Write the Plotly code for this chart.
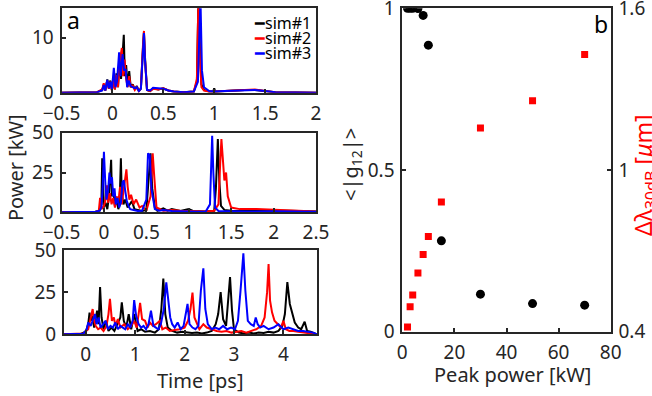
import plotly.graph_objects as go

# ---------------- data ----------------
# panel a1
t1_s1 = [-0.5, -0.15, -0.1, -0.085, -0.07, -0.05, -0.035, -0.02, -0.005, 0.01, 0.025, 0.04, 0.055, 0.07, 0.085, 0.1, 0.112, 0.122, 0.135, 0.15, 0.165, 0.18, 0.2, 0.22, 0.24, 0.26, 0.28, 0.3, 0.31, 0.32, 0.34, 0.37, 0.4, 0.45, 0.5, 0.55, 0.6, 0.7, 0.8, 0.83, 0.845, 0.86, 0.875, 0.9, 0.95, 0.99, 1.0, 1.01, 1.1, 1.2, 1.3, 1.4, 1.5, 1.6, 2.0]
p1_s1 = [0, 0.1, 0.5, 1.5, 0.4, 2.4, 0.8, 2.2, 0.5, 2.5, 0.6, 3.5, 1.0, 6.0, 2.5, 7.5, 10.5, 3.0, 5.0, 1.2, 3.9, 1.0, 1.5, 0.6, 1.2, 0.3, 0.8, 8.0, 11.0, 6.5, 0.5, 0.3, 0.8, 0.6, 0.8, 0.4, 0.2, 0.1, 0.2, 2.0, 17, 8, 1.5, 0.5, 0.2, 0.2, 0.8, 0.2, 0.3, 0.5, 0.5, 0.5, 0.3, 0.1, 0]
t1_s2 = [-0.5, -0.15, -0.1, -0.085, -0.07, -0.05, -0.035, -0.02, -0.005, 0.01, 0.025, 0.04, 0.055, 0.07, 0.093, 0.105, 0.12, 0.135, 0.15, 0.165, 0.18, 0.2, 0.22, 0.24, 0.26, 0.28, 0.3, 0.31, 0.32, 0.34, 0.37, 0.4, 0.45, 0.5, 0.55, 0.6, 0.7, 0.8, 0.83, 0.845, 0.86, 0.875, 0.9, 0.95, 1.0, 1.1, 1.2, 1.3, 1.4, 1.5, 1.6, 2.0]
p1_s2 = [0, 0.1, 0.6, 1.7, 0.4, 2.2, 0.7, 2.0, 0.4, 2.3, 0.6, 3.2, 1.0, 5.5, 8.1, 3.0, 6.0, 2.5, 1.0, 3.0, 1.0, 1.3, 0.5, 1.0, 0.3, 0.8, 8.5, 11.2, 6.0, 0.5, 0.3, 0.7, 0.6, 0.8, 0.4, 0.2, 0.1, 0.2, 2.5, 17, 6, 1.0, 0.4, 0.2, 0.2, 0.3, 0.5, 0.6, 0.6, 0.3, 0.1, 0]
t1_s3 = [-0.5, -0.15, -0.1, -0.085, -0.07, -0.05, -0.035, -0.02, -0.005, 0.014, 0.03, 0.045, 0.066, 0.08, 0.1, 0.115, 0.13, 0.145, 0.16, 0.18, 0.2, 0.22, 0.24, 0.26, 0.28, 0.3, 0.31, 0.32, 0.34, 0.37, 0.4, 0.45, 0.5, 0.55, 0.6, 0.7, 0.8, 0.84, 0.865, 0.88, 0.9, 0.95, 1.0, 1.1, 1.2, 1.3, 1.4, 1.5, 1.6, 2.0]
p1_s3 = [0, 0.1, 0.4, 1.4, 0.4, 2.3, 0.8, 2.0, 0.5, 4.5, 1.0, 2.0, 7.3, 3.0, 7.0, 4.0, 4.3, 1.0, 2.2, 1.2, 1.0, 0.8, 1.0, 0.3, 0.7, 7.5, 10.8, 6.0, 0.5, 0.4, 0.9, 0.8, 0.7, 0.4, 0.2, 0.1, 0.2, 2.0, 17, 4, 1.0, 0.3, 0.2, 0.3, 0.4, 0.5, 0.5, 0.3, 0.1, 0]

# panel a2
t2_s1 = [-0.5, -0.1, -0.05, -0.03, -0.02, -0.01, 0.0, 0.02, 0.04, 0.06, 0.075, 0.085, 0.095, 0.11, 0.13, 0.15, 0.17, 0.185, 0.2, 0.21, 0.23, 0.25, 0.28, 0.3, 0.33, 0.36, 0.4, 0.45, 0.5, 0.53, 0.55, 0.57, 0.6, 0.63, 0.7, 0.75, 0.8, 0.85, 0.9, 1.0, 1.05, 1.2, 1.3, 1.32, 1.343, 1.36, 1.38, 1.42, 1.5, 1.7, 2.0, 2.3, 2.5]
p2_s1 = [0, 0.3, 1, 5, 34, 12, 3, 6, 2, 10, 25, 33, 10, 14, 4, 8, 2, 5, 34, 12, 5, 8, 3, 5, 7, 2, 1.5, 0.8, 1.5, 20, 37, 15, 3, 1, 2.5, 1, 2, 1.5, 0.8, 2, 0.8, 0.5, 1, 15, 46, 20, 4, 1.5, 1, 0.8, 1.2, 0.8, 0.5]
t2_s2 = [-0.5, -0.1, -0.06, -0.045, -0.03, 0.0, 0.02, 0.037, 0.05, 0.07, 0.09, 0.11, 0.13, 0.15, 0.17, 0.19, 0.21, 0.23, 0.25, 0.265, 0.28, 0.3, 0.32, 0.35, 0.38, 0.42, 0.45, 0.5, 0.55, 0.575, 0.59, 0.62, 0.7, 0.8, 0.9, 1.0, 1.2, 1.3, 1.35, 1.37, 1.385, 1.4, 1.42, 1.44, 1.46, 1.5, 1.6, 1.8, 2.0, 2.2, 2.5]
p2_s2 = [0, 0.2, 1, 9, 2, 4, 8, 17, 6, 12, 5, 9, 3, 10, 6, 16, 5, 12, 20, 27, 16, 8, 11, 5, 8, 3, 4, 1, 10, 37, 25, 3, 1, 1.5, 1, 0.8, 0.5, 1, 5, 30, 46, 35, 20, 25, 10, 3, 2, 2, 1.5, 1, 0.5]
t2_s3 = [-0.5, -0.1, -0.05, -0.03, -0.015, 0.0, 0.015, 0.03, 0.05, 0.065, 0.08, 0.095, 0.11, 0.125, 0.14, 0.16, 0.18, 0.2, 0.22, 0.235, 0.25, 0.27, 0.29, 0.31, 0.35, 0.4, 0.45, 0.5, 0.52, 0.54, 0.56, 0.6, 0.65, 0.7, 0.8, 0.9, 1.0, 1.1, 1.2, 1.25, 1.265, 1.276, 1.29, 1.31, 1.35, 1.5, 1.7, 2.0, 2.3, 2.5]
p2_s3 = [0, 0.3, 1, 3, 15, 38, 20, 8, 14, 25, 18, 22, 10, 15, 5, 9, 3, 6, 19, 20, 14, 7, 4, 2, 1.5, 0.8, 1, 8, 37, 36, 15, 2, 1, 1.5, 0.8, 0.6, 0.5, 0.4, 0.5, 5, 30, 48, 25, 3, 0.8, 0.5, 0.5, 0.6, 0.5, 0.3]

# panel a3
t3_s1 = [-0.44, -0.1, 0.0, 0.05, 0.077, 0.1, 0.13, 0.17, 0.2, 0.23, 0.26, 0.29, 0.32, 0.36, 0.41, 0.46, 0.52, 0.58, 0.64, 0.7, 0.73, 0.77, 0.82, 0.87, 0.92, 0.98, 1.05, 1.12, 1.2, 1.3, 1.4, 1.48, 1.53, 1.57, 1.61, 1.66, 1.75, 1.85, 1.95, 2.05, 2.15, 2.25, 2.35, 2.45, 2.55, 2.63, 2.68, 2.73, 2.78, 2.84, 2.88, 2.92, 2.96, 3.0, 3.1, 3.2, 3.3, 3.4, 3.5, 3.6, 3.7, 3.8, 3.9, 3.98, 4.03, 4.08, 4.13, 4.18, 4.23, 4.3, 4.36, 4.43, 4.48, 4.55, 4.62, 4.68]
p3_s1 = [0, 0.2, 1.5, 6, 12.8, 8, 11, 4, 9, 14, 6, 28, 10, 3, 8, 2, 4, 2, 6, 10, 19, 8, 4, 12, 3, 12, 2, 3, 1.5, 2, 1, 3, 15, 33, 12, 4, 2, 1, 1.5, 1, 0.8, 1, 0.5, 1, 2, 6, 12, 25, 9, 5, 20, 34, 14, 3, 1, 0.5, 1, 0.5, 1, 0.8, 1.5, 1, 2, 5, 12, 31, 18, 12, 7, 4, 3, 7.5, 2, 1.5, 0.5, 0]
t3_s2 = [-0.44, -0.05, 0.05, 0.1, 0.14, 0.17, 0.2, 0.25, 0.3, 0.36, 0.42, 0.46, 0.49, 0.53, 0.57, 0.6, 0.65, 0.7, 0.78, 0.85, 0.92, 0.98, 1.03, 1.07, 1.1, 1.14, 1.2, 1.25, 1.3, 1.36, 1.42, 1.5, 1.55, 1.62, 1.7, 1.8, 1.9, 2.0, 2.07, 2.12, 2.16, 2.2, 2.25, 2.3, 2.38, 2.45, 2.55, 2.65, 2.75, 2.85, 2.95, 3.05, 3.15, 3.25, 3.35, 3.45, 3.55, 3.62, 3.67, 3.7, 3.73, 3.77, 3.82, 3.88, 3.95, 4.0, 4.05, 4.12, 4.2, 4.3, 4.4, 4.5, 4.68]
p3_s2 = [0, 0.5, 3, 10, 15, 8, 5, 3, 4, 2, 5, 12, 21, 8, 10, 5, 9, 4, 6, 3, 5, 8, 4, 12, 18.7, 9, 8, 4, 7, 5, 6, 8, 3, 4, 2, 2.5, 3, 4, 8, 15, 24.7, 10, 7, 3, 6, 4, 3, 2, 1.5, 2, 1, 1.5, 2, 1, 2, 3, 5, 10, 25, 41.7, 20, 13, 8, 6, 4, 8, 3, 2, 2, 1.5, 1, 0.5, 0]
t3_s3 = [-0.44, -0.05, 0.02, 0.05, 0.1, 0.15, 0.19, 0.22, 0.26, 0.3, 0.35, 0.4, 0.45, 0.5, 0.55, 0.6, 0.65, 0.7, 0.75, 0.8, 0.85, 0.9, 0.95, 0.98, 1.02, 1.07, 1.12, 1.17, 1.22, 1.27, 1.32, 1.37, 1.42, 1.47, 1.52, 1.58, 1.63, 1.67, 1.71, 1.75, 1.8, 1.86, 1.92, 1.98, 2.02, 2.06, 2.1, 2.16, 2.22, 2.28, 2.33, 2.38, 2.42, 2.47, 2.55, 2.62, 2.7, 2.78, 2.86, 2.94, 3.02, 3.08, 3.13, 3.19, 3.23, 3.28, 3.34, 3.4, 3.44, 3.48, 3.53, 3.6, 3.7, 3.8, 3.9, 4.0, 4.1, 4.2, 4.3, 4.4, 4.5, 4.6, 4.68]
p3_s3 = [0, 0.3, 3, 7, 5, 9, 12, 6, 10, 4, 6, 8, 3, 5, 4, 7, 3, 5, 4, 3, 6, 4, 8, 20.3, 11, 6, 4, 5, 3, 6, 14, 5, 4, 3, 6, 15, 30.8, 18, 10, 6, 4, 7, 3, 5, 12, 18, 6, 4, 3, 5, 26, 39.1, 15, 6, 3, 4, 3, 5, 3, 4, 3, 8, 25, 48, 26, 8, 6, 5, 10, 6, 4, 5, 3, 4, 6, 3, 4, 3, 2, 2, 1.5, 1, 0]

# panel b
peak_power = [2, 3, 4, 6, 8, 10, 15, 30, 50, 70]
g12 = [1.0, 1.0, 1.0, 0.999, 0.978, 0.886, 0.281, 0.116, 0.087, 0.082]
dlambda = [0.417, 0.493, 0.536, 0.618, 0.686, 0.753, 0.881, 1.156, 1.257, 1.429]

names = ["sim#1", "sim#2", "sim#3"]
colors = ["#000000", "#ff0000", "#0000ff"]

# ---------------- figure ----------------
W, H = 652, 396
FONT = "Noto Sans"
AX = "#262626"

fig = go.Figure()
panels = [
    ([t1_s1, t1_s2, t1_s3], [p1_s1, p1_s2, p1_s3], "x", "y"),
    ([t2_s1, t2_s2, t2_s3], [p2_s1, p2_s2, p2_s3], "x2", "y2"),
    ([t3_s1, t3_s2, t3_s3], [p3_s1, p3_s2, p3_s3], "x3", "y3"),
]
for pi, (ts, ps, xa, ya) in enumerate(panels):
    for k in range(3):
        fig.add_trace(go.Scatter(x=ts[k], y=ps[k], mode="lines", name=names[k],
                                 line=dict(color=colors[k], width=2),
                                 xaxis=xa, yaxis=ya, showlegend=False))

fig.add_trace(go.Scatter(x=peak_power, y=g12, mode="markers",
                         marker=dict(color="black", size=9, symbol="circle"),
                         xaxis="x4", yaxis="y4", showlegend=False))
fig.add_trace(go.Scatter(x=peak_power, y=dlambda, mode="markers",
                         marker=dict(color="#ff0000", size=7, symbol="square"),
                         xaxis="x4", yaxis="y5", showlegend=False))


def px2x(p):
    return p / W


def py2y(p):
    return 1 - p / H


common = dict(showline=True, linecolor=AX, linewidth=2, ticks="inside", ticklen=4,
              tickwidth=1.5, tickcolor=AX, showgrid=False, zeroline=False,
              automargin=False, ticklabeloverflow="allow",
              tickfont=dict(family=FONT, size=19, color=AX))
xcommon = dict(ticklabelstandoff=2, **common)
ycommon = dict(ticklabelstandoff=2, **common)

xd = [px2x(61.5), px2x(316)]
fig.update_layout(
    xaxis=dict(domain=xd, range=[-0.5, 2], tickvals=[-0.5, 0, 0.5, 1, 1.5, 2],
               anchor="y", mirror=True, **xcommon),
    yaxis=dict(domain=[py2y(92.7), py2y(8.3)], range=[0, 15.3], tickvals=[0, 10],
               anchor="x", mirror=True, **ycommon),
    xaxis2=dict(domain=xd, range=[-0.5, 2.5], tickvals=[-0.5, 0, 0.5, 1, 1.5, 2, 2.5],
                anchor="y2", mirror=True, **xcommon),
    yaxis2=dict(domain=[py2y(212.3), py2y(132.7)], range=[0, 50], tickvals=[0, 25, 50],
                anchor="x2", mirror=True, **ycommon),
    xaxis3=dict(domain=[px2x(64), px2x(317)], range=[-0.44, 4.68], tickvals=[0, 1, 2, 3, 4],
                anchor="y3", mirror=True, **xcommon),
    yaxis3=dict(domain=[py2y(334.3), py2y(250)], range=[0, 50], tickvals=[0, 25, 50],
                anchor="x3", mirror=True, **ycommon),
    xaxis4=dict(domain=[px2x(402.3), px2x(610.7)], range=[0, 80], tickvals=[0, 20, 40, 60, 80],
                anchor="y4", mirror=True, **xcommon),
    yaxis4=dict(domain=[py2y(331.7), py2y(8.3)], range=[0, 1], tickvals=[0, 0.5, 1],
                anchor="x4", **ycommon),
    yaxis5=dict(range=[0.4, 1.6], tickvals=[0.4, 1, 1.6], overlaying="y4", side="right",
                anchor="x4", **ycommon),
    width=W, height=H,
    margin=dict(l=0, r=0, t=0, b=0),
    paper_bgcolor="white", plot_bgcolor="white",
    font=dict(family=FONT, color=AX),
    showlegend=False,
)

ann = [
    dict(text="a", x=px2x(73), y=py2y(20), font=dict(size=23, color="black")),
    dict(text="b", x=px2x(601), y=py2y(24), font=dict(size=23, color="black")),
    dict(text="Power [kW]", x=px2x(15), y=py2y(168), textangle=-90, font=dict(size=20, color=AX)),
    dict(text="Time [ps]", x=px2x(200), y=py2y(380), font=dict(size=20, color=AX)),
    dict(text="Peak power [kW]", x=px2x(512), y=py2y(374), font=dict(size=20, color=AX)),
    dict(text="&lt;|g<sub>12</sub>|&gt;", x=px2x(351), y=py2y(165), textangle=-90,
         font=dict(size=20, color=AX)),
    dict(text="Δλ<sub>30dB</sub> [<i>μ</i>m]", x=px2x(644), y=py2y(175), textangle=-90,
         font=dict(size=23, color="#ff0000")),
]
# legend entries (short coloured line + label), top-right of panel a1
for k, yy in enumerate([23, 38, 53]):
    ann.append(dict(text=f"<span style='color:{colors[k]}'>━</span>{names[k]}",
                    x=px2x(313), y=py2y(yy), xanchor="right",
                    font=dict(size=16, color="black")))
for a in ann:
    a.setdefault("xanchor", "center")
    a.update(xref="paper", yref="paper", showarrow=False, yanchor="middle")
    a["font"]["family"] = FONT
fig.update_layout(annotations=ann)

fig.write_html("out.html", config={"displayModeBar": False},
               post_script="document.body.style.margin='0px';document.body.style.overflow='hidden';")
